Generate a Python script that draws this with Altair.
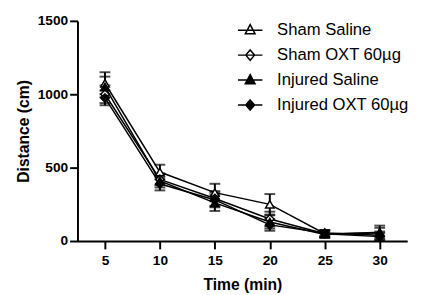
import altair as alt
import pandas as pd

times = [5, 10, 15, 20, 25, 30]
series = ["Sham Saline", "Sham OXT 60µg", "Injured Saline", "Injured OXT 60µg"]
means = {
    "Sham Saline":      [1075, 470, 330, 250, 50, 55],
    "Sham OXT 60µg":    [1000, 420, 290, 150, 50, 30],
    "Injured Saline":   [1050, 410, 260, 130, 45, 60],
    "Injured OXT 60µg": [975, 390, 280, 110, 55, 40],
}
sems = {
    "Sham Saline":      [75, 50, 60, 70, 25, 50],
    "Sham OXT 60µg":    [60, 40, 50, 50, 20, 25],
    "Injured Saline":   [70, 45, 55, 45, 20, 30],
    "Injured OXT 60µg": [50, 45, 50, 40, 20, 25],
}

rows = []
for s in series:
    for t, m, e in zip(times, means[s], sems[s]):
        rows.append({"time": t, "series": s, "mean": m, "lo": m - e, "hi": m + e})
df = pd.DataFrame(rows)

FONT = "Liberation Sans"
xs = alt.Scale(domain=[2.5, 32.5], nice=False, zero=False)
ys = alt.Scale(domain=[0, 1500], nice=False)

x_enc = alt.X("time:Q", scale=xs, title="Time (min)",
              axis=alt.Axis(values=times, format="d", labelFontSize=14, titleFontSize=16,
                            titlePadding=10, labelPadding=5))
y_enc = alt.Y("mean:Q", scale=ys, title="Distance (cm)",
              axis=alt.Axis(values=[0, 500, 1000, 1500], format="d", labelFontSize=14,
                            titleFontSize=16, titlePadding=6, labelPadding=2))

base = alt.Chart(df)

lines = base.mark_line(color="black", strokeWidth=1.5).encode(
    x=x_enc, y=y_enc, detail="series:N")

err = base.mark_rule(color="black", strokeWidth=2).encode(
    x="time:Q", y="lo:Q", y2="hi:Q", detail="series:N")
cap_hi = base.mark_tick(color="black", thickness=2, size=11, orient="horizontal").encode(
    x="time:Q", y="hi:Q", detail="series:N")
cap_lo = base.mark_tick(color="black", thickness=2, size=11, orient="horizontal").encode(
    x="time:Q", y="lo:Q", detail="series:N")

fills = ["white", "white", "black", "black"]

points = base.mark_point(filled=True, stroke="black", strokeWidth=1.5, opacity=1, size=75).encode(
    x="time:Q", y="mean:Q",
    shape=alt.Shape("series:N", scale=alt.Scale(domain=series,
                    range=["triangle-up", "diamond", "triangle-up", "diamond"]), legend=None),
    fill=alt.Fill("series:N", scale=alt.Scale(domain=series, range=fills), legend=None),
)

tri = "M-1,0H1M0,-0.45L0.4,0.3H-0.4Z"
dia = "M-1,0H1M0,-0.42L0.36,0L0,0.42L-0.36,0Z"
leg = alt.Legend(title=None, orient="none", legendX=163, legendY=-4,
                 labelFont=FONT, labelFontSize=17, labelFontWeight="normal",
                 labelColor="black", symbolSize=625, symbolStrokeColor="black",
                 symbolStrokeWidth=1.5, labelOffset=14, rowPadding=3.5, padding=0)
legend_layer = base.transform_filter("false").mark_point(
    filled=True, strokeWidth=1.5, opacity=1).encode(
    x="time:Q", y="mean:Q",
    shape=alt.Shape("series:N", scale=alt.Scale(domain=series, range=[tri, dia, tri, dia]),
                    legend=leg, sort=series),
    fill=alt.Fill("series:N", scale=alt.Scale(domain=series, range=fills),
                  legend=leg, sort=series),
    stroke=alt.Stroke("series:N", scale=alt.Scale(domain=series, range=["black"] * 4),
                      legend=leg, sort=series),
)

chart = alt.layer(lines, err, cap_hi, cap_lo, points, legend_layer).resolve_scale(
    shape="independent", fill="independent", stroke="independent"
).properties(
    width=337, height=225,
    autosize=alt.AutoSizeParams(type="none"),
    padding={"left": 71, "top": 10, "right": 10, "bottom": 52},
    background="white",
).configure_view(stroke=None).configure_axis(
    grid=False, domainColor="black", domainWidth=2, tickColor="black", tickWidth=2,
    tickSize=8, labelFont=FONT, titleFont=FONT, labelFontWeight="bold",
    titleFontWeight="bold", labelColor="black", titleColor="black",
)

chart.save("out.html", embed_options={"renderer": "svg", "actions": False})
